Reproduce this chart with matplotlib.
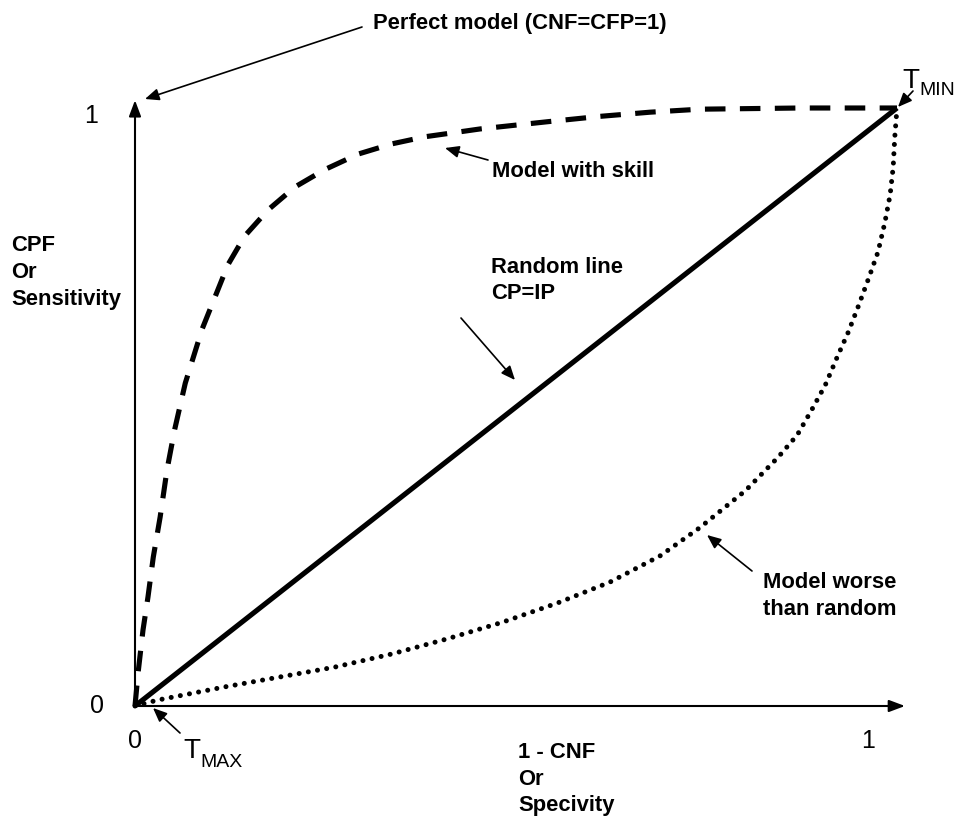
import matplotlib
matplotlib.use('Agg')
import matplotlib.pyplot as plt

plt.rcParams['font.family'] = ['Liberation Sans', 'DejaVu Sans']

# ROC-style diagram, values
random_x = [0, 1]
random_y = [0, 1]

skill_x = [0, 0.004, 0.0105, 0.017, 0.024, 0.033, 0.042, 0.052, 0.066, 0.088, 0.105,
           0.122, 0.144, 0.175, 0.210, 0.249, 0.293, 0.337, 0.381, 0.420, 0.453,
           0.541, 0.610, 0.676, 0.741, 0.873, 1.0]
skill_y = [0, 0.055, 0.127, 0.182, 0.249, 0.316, 0.395, 0.462, 0.540, 0.630, 0.684,
           0.738, 0.786, 0.830, 0.868, 0.897, 0.923, 0.940, 0.952, 0.959, 0.965,
           0.977, 0.986, 0.993, 0.998, 1.0, 1.0]

worse_x = [0, 0.030, 0.118, 0.262, 0.337, 0.409, 0.482, 0.554, 0.623, 0.689, 0.741,
           0.801, 0.844, 0.869, 0.888, 0.906, 0.921, 0.936, 0.950, 0.963, 0.975,
           0.984, 0.991, 0.995, 0.997, 1.0]
worse_y = [0, 0.010, 0.032, 0.065, 0.087, 0.112, 0.140, 0.172, 0.207, 0.251, 0.298,
           0.360, 0.416, 0.453, 0.495, 0.537, 0.582, 0.625, 0.671, 0.716, 0.759,
           0.808, 0.855, 0.901, 0.950, 1.0]

tick_labels = ['0', '1']

W, H = 962, 819
fig = plt.figure(figsize=(W / 100, H / 100), dpi=100)
# origin at pixel (135, 706), point (1,1) at pixel (897, 108)
ax = fig.add_axes([135 / W, (H - 706) / H, 762 / W, 598 / H])
ax.set_xlim(0, 1)
ax.set_ylim(0, 1)
ax.axis('off')


def px(x, y):
    # pixel coords (y down) -> figure pixels (y up)
    return (x, H - y)


def label(x, y, s, size=15.8, weight='bold', ha='left', va='baseline'):
    fig.text(x / W, 1 - y / H, s, fontsize=size, fontweight=weight, ha=ha, va=va)


def arrow(x0, y0, x1, y1):
    ax.annotate('', xy=px(x1, y1), xytext=px(x0, y0), xycoords='figure pixels',
                textcoords='figure pixels',
                arrowprops=dict(arrowstyle='-|>,head_length=0.7,head_width=0.3',
                                mutation_scale=12, lw=1.2, color='black',
                                shrinkA=0, shrinkB=0))


# axes with arrow heads
for tip in [(1.0105, 0), (0, 1.013)]:
    ax.annotate('', xy=tip, xytext=(0, 0), xycoords='data',
                arrowprops=dict(arrowstyle='-|>,head_length=0.8,head_width=0.3',
                                mutation_scale=12, lw=1.5, color='black',
                                shrinkA=0, shrinkB=0), annotation_clip=False)

ax.plot(random_x, random_y, color='black', lw=3.7, clip_on=False, solid_capstyle='butt')
ax.plot(skill_x, skill_y, color='black', lw=3.7, dashes=(4, 2.8), clip_on=False)
ax.plot(worse_x, worse_y, color='black', lw=3.6, dashes=(0.01, 1.85),
        dash_capstyle='round', clip_on=False)

# tick labels
label(97, 706, tick_labels[0], size=18, weight='normal', ha='center', va='center')
label(91, 116, tick_labels[1], size=18, weight='normal', ha='center', va='center')
label(135, 741, tick_labels[0], size=18, weight='normal', ha='center', va='center')
label(868, 741, tick_labels[1], size=18, weight='normal', ha='center', va='center')

# axis titles
for yb, s in zip([251, 278, 305], ['CPF', 'Or', 'Sensitivity']):
    label(11, yb, s)
for yb, s in zip([758, 785, 811], ['1 - CNF', 'Or', 'Specivity']):
    label(518, yb, s)

# annotations
label(373, 29, 'Perfect model (CNF=CFP=1)')
arrow(362, 27, 145, 99)

label(492, 177, 'Model with skill')
arrow(488, 160, 445, 148)

label(491, 273, 'Random line')
label(491, 299, 'CP=IP')
arrow(461, 318, 515, 380)

label(763, 588, 'Model worse')
label(763, 615, 'than random')
arrow(752, 571, 707, 535)

label(902, 88, 'T', size=20, weight='normal')
label(919, 95, 'MIN', size=14, weight='normal')
arrow(913, 91, 898, 107)

label(183, 758, 'T', size=20, weight='normal')
label(200, 767, 'MAX', size=14, weight='normal')
arrow(180, 733, 153, 708)

fig.savefig('out.png', dpi=100)
